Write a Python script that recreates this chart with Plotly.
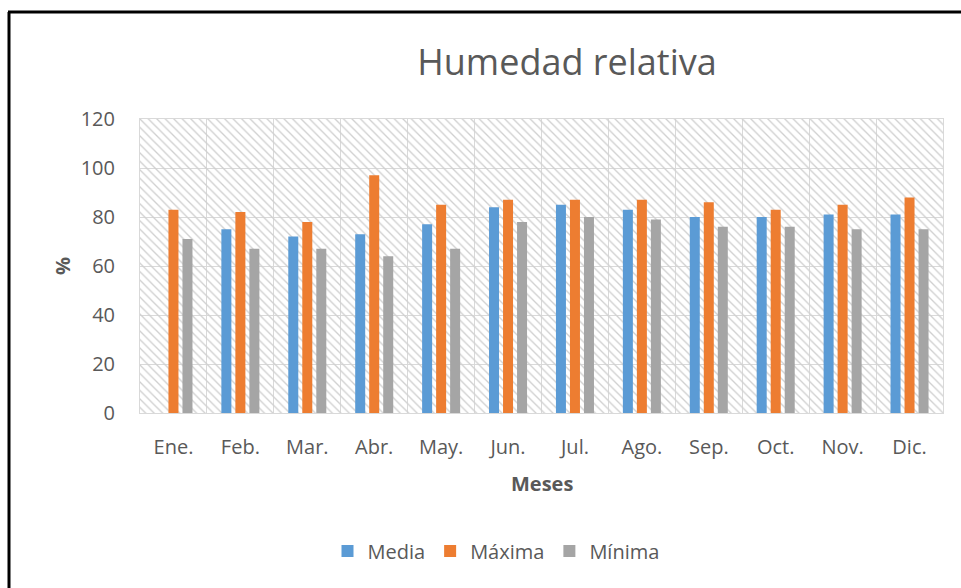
import plotly.graph_objects as go

meses = ["Ene.", "Feb.", "Mar.", "Abr.", "May.", "Jun.", "Jul.", "Ago.", "Sep.", "Oct.", "Nov.", "Dic."]
media = [None, 75, 72, 73, 77, 84, 85, 83, 80, 80, 81, 81]
maxima = [83, 82, 78, 97, 85, 87, 87, 87, 86, 83, 85, 88]
minima = [71, 67, 67, 64, 67, 78, 80, 79, 76, 76, 75, 75]
y_ticks = [0, 20, 40, 60, 80, 100, 120]
Y_MAX = 120

TXT = "#595959"
GRID = "#D9D9D9"
FONT = "Open Sans"

fig = go.Figure()

# hatched plot-area background
fig.add_trace(go.Bar(
    x=meses, y=[Y_MAX] * len(meses), width=1,
    marker=dict(color="rgba(0,0,0,0)", line=dict(width=0),
                pattern=dict(shape="\\", fgcolor="#CFCFCF", size=6, solidity=0.22, fillmode="replace")),
    hoverinfo="skip", showlegend=False, xaxis="x", yaxis="y",
))

for name, vals, col in [("Media", media, "#5B9BD5"), ("Máxima", maxima, "#ED7D31"), ("Mínima", minima, "#A5A5A5")]:
    fig.add_trace(go.Bar(x=meses, y=vals, name=name, marker=dict(color=col, line=dict(width=0)),
                         xaxis="x2", yaxis="y2"))

fig.update_layout(
    width=961, height=588,
    margin=dict(l=140, r=18, t=119, b=175),
    paper_bgcolor="white", plot_bgcolor="white",
    barmode="group", bargap=0.372, bargroupgap=0.286,
    font=dict(family=FONT, color=TXT),
    title=dict(text="Humedad relativa", x=567 / 961, xanchor="center", y=1 - 62 / 588, yanchor="middle",
               font=dict(size=36, color=TXT, family=FONT)),
    xaxis=dict(type="category", categoryorder="array", categoryarray=meses, tickson="boundaries",
               showgrid=True, gridcolor=GRID, gridwidth=1, showline=True, linecolor=GRID, mirror=True,
               ticks="", tickfont=dict(size=20, color=TXT), ticklabelstandoff=16),
    yaxis=dict(range=[0, Y_MAX], tickvals=y_ticks, showgrid=True, gridcolor=GRID, gridwidth=1,
               showline=True, linecolor=GRID, mirror=True, zeroline=False,
               ticks="", tickfont=dict(size=20, color=TXT), ticklabelstandoff=20),
    xaxis2=dict(type="category", categoryorder="array", categoryarray=meses, overlaying="x", visible=False),
    yaxis2=dict(range=[0, Y_MAX], overlaying="y", visible=False),
    legend=dict(orientation="h", x=(496 - 140) / 803, xanchor="center", y=(413 - 551) / 294, yanchor="middle",
                font=dict(size=20, color=TXT), traceorder="normal", itemwidth=30),
    annotations=[
        dict(text="<b>%</b>", x=(62 - 140) / 803, y=0.5, xref="paper", yref="paper", showarrow=False,
             textangle=-90, font=dict(size=20, color=TXT), xanchor="center", yanchor="middle"),
        dict(text="<b>Meses</b>", x=0.5, y=(413 - 483) / 294, xref="paper", yref="paper", showarrow=False,
             font=dict(size=20, color=TXT), xanchor="center", yanchor="middle"),
    ],
    shapes=[
        dict(type="line", xref="paper", yref="paper", x0=(9 - 140) / 803, x1=(9 - 140) / 803,
             y0=(413 - 620) / 294, y1=(413 - 12) / 294, line=dict(color="black", width=3)),
        dict(type="line", xref="paper", yref="paper", x0=(8 - 140) / 803, x1=(990 - 140) / 803,
             y0=(413 - 12) / 294, y1=(413 - 12) / 294, line=dict(color="black", width=3)),
    ],
)

fig.write_html("out.html", config={"displayModeBar": False},
               post_script="document.body.style.margin='0';document.body.style.padding='0';")
